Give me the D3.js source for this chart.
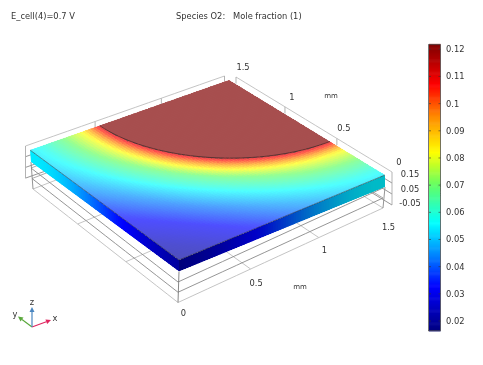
<!DOCTYPE html>
<html><head><meta charset="utf-8">
<script src="https://cdnjs.cloudflare.com/ajax/libs/d3/7.8.5/d3.min.js"></script>
<style>
html,body{margin:0;padding:0;background:#fff}
svg{display:block;filter:blur(0.45px)}
text{font-family:"DejaVu Sans",sans-serif;fill:#333}
</style></head><body><svg id="c" width="483" height="365"></svg>
<script>
// ---------- data ----------
const titleLeft = "E_cell(4)=0.7 V";
const titleCenter = "Species O2:\u00A0\u00A0\u00A0Mole fraction (1)";
const xTicks = [0, 0.5, 1, 1.5];
const yTicks = [0, 0.5, 1, 1.5];
const zTicks = [-0.05, 0.05, 0.15];
const zTickLabels = ["-0.05", "0.05", "0.15"];
const barTicks = [0.02,0.03,0.04,0.05,0.06,0.07,0.08,0.09,0.1,0.11,0.12];
const barTickLabels = ["0.02","0.03","0.04","0.05","0.06","0.07","0.08","0.09","0.1","0.11","0.12"];
const barRange = [0.0164, 0.1217];
const colorValues = [0.0164,0.0325,0.044,0.056,0.07,0.082,0.095,0.107,0.1217];
const colorStops = ["#000080","#0000ff","#0082ff","#00ffff","#64ff64","#ffff00","#ff8c00","#ff0000","#800000"];
// mole fraction against distance (mm) from the far corner
const diagRadius = [0, 0.999, 1.0, 1.03, 1.07, 1.127, 1.22, 1.38, 1.545, 1.75, 1.97, 2.13];
const diagValue  = [0.1217,0.1217,0.112,0.104,0.095,0.082,0.068,0.055,0.043,0.032,0.024,0.020];
const edgeRadius = [0, 0.999, 1.0, 1.03, 1.07, 1.127, 1.28, 1.42, 1.5, 1.7, 2.13];
const edgeValue  = [0.1217,0.1217,0.112,0.104,0.095,0.082,0.068,0.058,0.054,0.044,0.030];
const sectorRadius = 1.0;
const side = 1.5;

// ---------- projection calibration (front, right, back, left) ----------
function homography(q){
  const [[x0,y0],[x1,y1],[x2,y2],[x3,y3]] = q;
  const dx1=x1-x2,dx2=x3-x2,sx=x0-x1+x2-x3,dy1=y1-y2,dy2=y3-y2,sy=y0-y1+y2-y3;
  const den=dx1*dy2-dx2*dy1, g=(sx*dy2-dx2*sy)/den, h=(dx1*sy-sx*dy1)/den;
  const a=x1-x0+g*x1,b=x3-x0+h*x3,d=y1-y0+g*y1,e=y3-y0+h*y3;
  return (x,y)=>{const u=x/side,v=y/side,w=g*u+h*v+1;return [(a*u+b*v+x0)/w,(d*u+e*v+y0)/w];};
}
const plateTop = homography([[179,260],[385,175],[229,80],[30,150]]);
const plateBot = homography([[179,271.5],[385,187],[229,91],[31,162]]);
const floorLow = homography([[178,302.5],[383,208],[229,113],[33,189]]);
const floorUp  = homography([[178,282],[383,188],[229,93],[31,168]]);
const zt = d3.scaleLinear([zTicks[0],zTicks[2]],[0,1]);
const frame = (x,y,z)=>{const a=floorLow(x,y),b=floorUp(x,y),t=zt(z);return [a[0]+(b[0]-a[0])*t,a[1]+(b[1]-a[1])*t];};
const wallY = (x,k)=>{const p=plateTop(x,side);return [p[0]-4.5,p[1]-4+k*10.7];};
const wallX = (y,k)=>{const p=plateTop(side,y);return [p[0]+7,p[1]-3+k*11];};

// ---------- scales ----------
const color = d3.scaleLinear(colorValues,colorStops).clamp(true);
const diagScale = d3.scaleLinear(diagRadius,diagValue).clamp(true);
const edgeScale = d3.scaleLinear(edgeRadius,edgeValue).clamp(true);
function field(x,y){
  const dx=side-x,dy=side-y,r=Math.hypot(dx,dy),th=Math.atan2(dy,dx),w=Math.sin(2*th)**2;
  return edgeScale(r)*(1-w)+diagScale(r)*w;
}
const lighten = c=>d3.interpolateRgb(c,"#fff")(0.31);
const darken = c=>{const k=d3.rgb(c);return d3.rgb(k.r*0.8,k.g*0.8,k.b*0.78).formatRgb();};
const barY = d3.scaleLinear([0.02,0.12],[321,49.3]);

const svg=d3.select("#c");
const line=d3.line();
const LIGHT="#bdbdbd",DARK="#8a8a8a";
const g=svg.append("g").attr("fill","none").attr("stroke-width",0.9);
const seg=(pts,col,w)=>g.append("path").attr("d",line(pts)).attr("stroke",col).attr("stroke-width",w||0.9);
const steps=d3.range(0,1.5001,0.1);

// clip regions
const defs=svg.append("defs");
const clip=(id,pts)=>defs.append("clipPath").attr("id",id).append("path").attr("d",line(pts)+"Z");
clip("topClip",[plateTop(0,0),plateTop(side,0),plateTop(side,side),plateTop(0,side)]);
clip("leftClip",[plateTop(0,0),plateTop(0,side),plateBot(0,side),plateBot(0,0)]);
clip("rightClip",[plateTop(0,0),plateTop(side,0),plateBot(side,0),plateBot(0,0)]);

// back walls
[0,1,2,3].forEach(k=>{
  seg(steps.map(x=>wallY(x,k)),k==0?LIGHT:DARK);
  seg(steps.map(y=>wallX(y,k)),k==0?LIGHT:DARK);
});
seg([wallY(0,0),wallY(0,3)],"#aaa");
seg([wallX(0,0),wallX(0,3)],"#aaa");
seg([wallY(1.5,0),wallY(1.5,0.5)],"#aaa");
seg([wallX(1.5,0),wallX(1.5,0.6)],"#aaa");
[0.5,1].forEach(t=>{seg([wallY(t,0),wallY(t,0.6)],"#aaa");seg([wallX(t,0),wallX(t,0.6)],"#aaa");});

// floor grid and front levels
xTicks.slice(1).forEach(t=>seg(steps.map(s=>frame(t,s,zTicks[0])),LIGHT));
yTicks.slice(1).forEach(t=>seg(steps.map(s=>frame(s,t,zTicks[0])),LIGHT));
zTicks.forEach((z,i)=>{
  const col=i==0?LIGHT:DARK;
  seg(steps.map(s=>frame(0,s,z)),col);
  seg(steps.map(s=>frame(s,0,z)),col);
  if(i>0){seg(steps.map(s=>frame(side,s,z)),DARK,0.7);seg(steps.map(s=>frame(s,side,z)),DARK,0.7);}
});
seg([plateBot(0,0),frame(0,0,zTicks[0])],"#777");
seg([plateBot(side,0),frame(side,0,zTicks[0])],"#888");
seg([plateBot(0,side),frame(0,side,zTicks[0])],"#888");

// top surface cells
const N=80,cell=side/N;
const cells=d3.cross(d3.range(N),d3.range(N)).map(([i,j])=>({x:i*cell,y:j*cell}));
svg.append("g").attr("clip-path","url(#topClip)").attr("shape-rendering","crispEdges").selectAll("path").data(cells).join("path")
  .attr("d",d=>line([plateTop(d.x,d.y),plateTop(d.x+cell,d.y),plateTop(d.x+cell,d.y+cell),plateTop(d.x,d.y+cell)])+"Z")
  .each(function(d){const c=lighten(color(field(d.x+cell/2,d.y+cell/2)));d3.select(this).attr("fill",c).attr("stroke",c).attr("stroke-width",0.6);});

// side faces (each quad overlaps the next one, clipped to the face)
const sideN=d3.range(N).map(i=>i*cell);
svg.append("g").attr("clip-path","url(#leftClip)").selectAll("path").data(sideN).join("path")
  .attr("d",s=>line([plateTop(0,s),plateTop(0,s+cell*1.5),plateBot(0,s+cell*1.5),plateBot(0,s)])+"Z")
  .attr("fill",s=>color(field(0,s+cell/2)));
svg.append("g").attr("clip-path","url(#rightClip)").selectAll("path").data(sideN).join("path")
  .attr("d",s=>line([plateTop(s,0),plateTop(s+cell*1.5,0),plateBot(s+cell*1.5,0),plateBot(s,0)])+"Z")
  .attr("fill",s=>darken(color(field(s+cell/2,0))));

// plate edges and sector arc
const edge=svg.append("g").attr("fill","none").attr("stroke","#222").attr("stroke-width",0.6).attr("stroke-opacity",0.8);
edge.append("path").attr("d",line([plateTop(0,side),plateTop(0,0),plateTop(side,0)]));
const angles=d3.range(0,Math.PI/2+0.001,Math.PI/120);
edge.append("path").attr("stroke-width",0.8)
  .attr("d",line(angles.map(a=>plateTop(side-sectorRadius*Math.cos(a),side-sectorRadius*Math.sin(a)))));

// axis labels (mm on the z axis sits mostly behind the colour bar)
const T=(s,x,y,size,anchor)=>svg.append("text").attr("x",x).attr("y",y).attr("font-size",size).attr("text-anchor",anchor||"middle").attr("dominant-baseline","central").text(s);
T("mm",439,190,7).attr("transform","rotate(-90 439 190)");
T(titleLeft,11,15.5,8.3,"start");
T(titleCenter,176,15.5,8.3,"start");
const xDy=d3.scaleLinear(xTicks,[10.5,14,12,19]);
xTicks.forEach(t=>{const p=frame(t,0,zTicks[0]);T(String(t),p[0]+5.5,p[1]+xDy(t),8.3);});
yTicks.forEach(t=>{const p=wallX(t,0);T(String(t),p[0]+7,p[1]-10,8.3);});
const zLabelY=d3.scaleLinear([zTicks[0],zTicks[2]],[203,174]);
zTicks.forEach((z,i)=>T(zTickLabels[i],410,zLabelY(z),8.3));
T("mm",300,287,7);
T("mm",331,96,7);

// colour bar
const barCells=d3.range(barRange[0],barRange[1],0.0004);
const bar=svg.append("g");
bar.selectAll("rect").data(barCells).join("rect")
  .attr("x",429).attr("width",11.5)
  .attr("y",d=>barY(d+0.0004)).attr("height",d=>barY(d)-barY(d+0.0004)+0.6)
  .attr("fill",d=>color(d));
bar.append("rect").attr("x",428.5).attr("y",barY(barRange[1])).attr("width",12).attr("height",barY(barRange[0])-barY(barRange[1]))
  .attr("fill","none").attr("stroke","#555").attr("stroke-width",0.8);
barTicks.forEach((t,i)=>{
  bar.append("path").attr("d",line([[429,barY(t)],[431,barY(t)]])).attr("stroke","#333").attr("stroke-width",0.6);
  bar.append("path").attr("d",line([[438.5,barY(t)],[440.5,barY(t)]])).attr("stroke","#333").attr("stroke-width",0.6);
  T(barTickLabels[i],446,barY(t),8.3,"start");
});

// triad
const axes=[{n:"x",c:"#e0255f",tip:[51,320],lab:[55,317.5]},{n:"y",c:"#5aa83c",tip:[18,316.5],lab:[15,314]},{n:"z",c:"#4a86c0",tip:[32,307],lab:[32,302]}];
const origin=[32,327];
axes.forEach(a=>{
  const dx=a.tip[0]-origin[0],dy=a.tip[1]-origin[1],L=Math.hypot(dx,dy),ux=dx/L,uy=dy/L;
  const base=[a.tip[0]-ux*5,a.tip[1]-uy*5];
  svg.append("path").attr("d",line([origin,base])).attr("stroke",a.c).attr("stroke-width",1.2).attr("fill","none");
  svg.append("path").attr("d",line([a.tip,[base[0]-uy*2.5,base[1]+ux*2.5],[base[0]+uy*2.5,base[1]-ux*2.5]])+"Z").attr("fill",a.c);
  T(a.n,a.lab[0],a.lab[1],8.3);
});
</script></body></html>
